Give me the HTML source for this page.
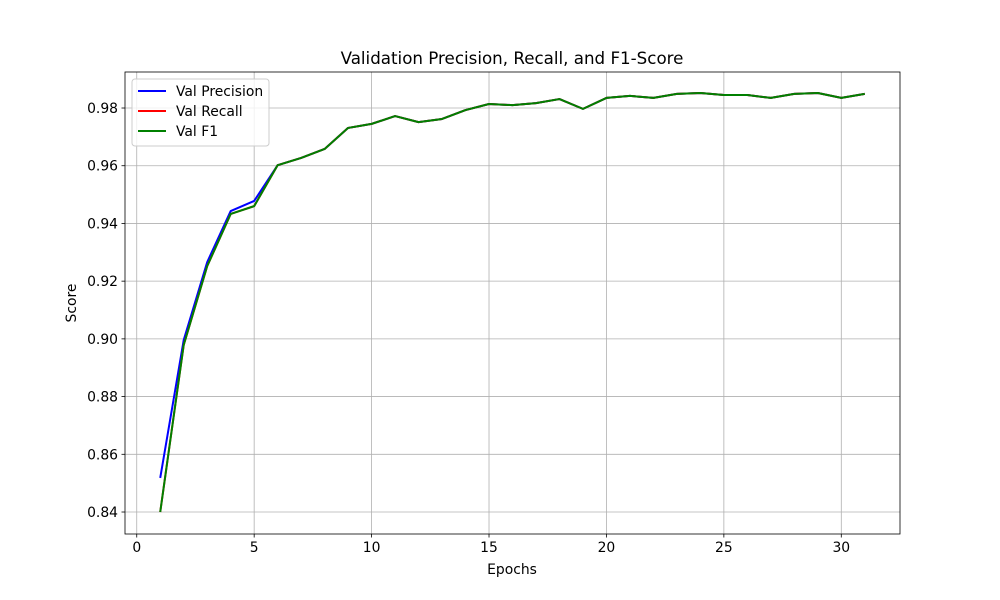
<!DOCTYPE html>
<html><head><meta charset="utf-8"><style>
body{margin:0;background:#fff;}
svg{display:block;font-family:"DejaVu Sans","Liberation Sans",sans-serif;}
</style></head><body>
<svg id="chart" width="1000" height="600">
<rect width="1000" height="600" fill="#fff"/>
<text x="512" y="64" text-anchor="middle" font-size="16.7">Validation Precision, Recall, and F1-Score</text>
<g id="grid"></g><g id="series"></g><g id="axes"></g>
<text x="512" y="574" text-anchor="middle" font-size="13.9">Epochs</text>
<text x="76" y="303" text-anchor="middle" font-size="13.9" transform="rotate(-90 76 303)">Score</text>
<g>
<rect x="132" y="79" width="137" height="67" rx="3" fill="#fff" fill-opacity="0.8" stroke="#ccc"/>
<line x1="138" y1="91" x2="166" y2="91" stroke="#0000ff" stroke-width="2"/><text x="176" y="96" font-size="13.9">Val Precision</text>
<line x1="138" y1="111" x2="166" y2="111" stroke="#ff0000" stroke-width="2"/><text x="176" y="116" font-size="13.9">Val Recall</text>
<line x1="138" y1="131" x2="166" y2="131" stroke="#008000" stroke-width="2"/><text x="176" y="136" font-size="13.9">Val F1</text>
</g>
</svg>
<script>
const epochs=[1,2,3,4,5,6,7,8,9,10,11,12,13,14,15,16,17,18,19,20,21,22,23,24,25,26,27,28,29,30,31];
const precision=[0.8518,0.8996,0.9266,0.9443,0.9478,0.9602,0.9627,0.9658,0.9731,0.9745,0.9772,0.9751,0.9762,0.9793,0.9814,0.981,0.9817,0.9831,0.9797,0.9835,0.9842,0.9835,0.9849,0.9852,0.9845,0.9845,0.9835,0.9849,0.9852,0.9835,0.9849];
const recall=[0.84,0.8979,0.9252,0.9433,0.946,0.9602,0.9627,0.9658,0.9731,0.9745,0.9772,0.9751,0.9762,0.9793,0.9814,0.981,0.9817,0.9831,0.9797,0.9835,0.9842,0.9835,0.9849,0.9852,0.9845,0.9845,0.9835,0.9849,0.9852,0.9835,0.9849];
const f1=[0.84,0.8979,0.9252,0.9433,0.946,0.9602,0.9627,0.9658,0.9731,0.9745,0.9772,0.9751,0.9762,0.9793,0.9814,0.981,0.9817,0.9831,0.9797,0.9835,0.9842,0.9835,0.9849,0.9852,0.9845,0.9845,0.9835,0.9849,0.9852,0.9835,0.9849];
const xTicks=[0,5,10,15,20,25,30];
const yTicks=[0.84,0.86,0.88,0.90,0.92,0.94,0.96,0.98];
const L=125,R=900,T=72,B=534;
const xMin=-0.5,xMax=32.5,yMin=0.83238,yMax=0.99248;
const X=v=>L+(v-xMin)/(xMax-xMin)*(R-L);
const Y=v=>B-(v-yMin)/(yMax-yMin)*(B-T);
const NS="http://www.w3.org/2000/svg";
function mk(tag,attrs,parent){const e=document.createElementNS(NS,tag);for(const k in attrs)e.setAttribute(k,attrs[k]);parent.appendChild(e);return e;}
const grid=document.getElementById('grid'),axes=document.getElementById('axes'),series=document.getElementById('series');
xTicks.forEach(t=>{const x=X(t);
const g=mk('line',{x1:x,x2:x,y1:T,y2:B,stroke:'#b0b0b0','stroke-width':0.8},grid);


mk('line',{x1:x,x2:x,y1:B,y2:B+3.5,stroke:'#000','stroke-width':0.8},axes);
const tx=mk('text',{x:x,y:B+18,'text-anchor':'middle','font-size':13.9},axes);tx.textContent=t;

});
yTicks.forEach(t=>{const y=Y(t);
const g=mk('line',{x1:L,x2:R,y1:y,y2:y,stroke:'#b0b0b0','stroke-width':0.8},grid);


mk('line',{x1:L-3.5,x2:L,y1:y,y2:y,stroke:'#000','stroke-width':0.8},axes);
const tx=mk('text',{x:L-7,y:y+5,'text-anchor':'end','font-size':13.9},axes);tx.textContent=t.toFixed(2);

});
const frame=mk('rect',{x:L,y:T,width:R-L,height:B-T,fill:'none',stroke:'#000','stroke-width':0.8},axes);


[[precision,'#0000ff','precision-line'],[recall,'#ff0000','recall-line'],[f1,'#008000','f1-line']].forEach(([d,c,n])=>{
const p=mk('polyline',{points:d.map((v,i)=>X(epochs[i])+','+Y(v)).join(' '),fill:'none',stroke:c,'stroke-width':2,'stroke-linejoin':'round'},series);

});
</script>
</body></html>
